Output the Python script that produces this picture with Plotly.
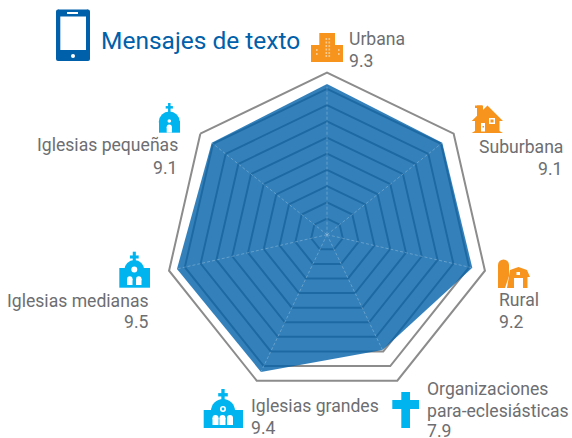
import plotly.graph_objects as go

W, H = 572, 438
categories = ["Urbana", "Suburbana", "Rural", "Organizaciones para-eclesiásticas",
              "Iglesias grandes", "Iglesias medianas", "Iglesias pequeñas"]
values = [9.3, 9.1, 9.2, 7.9, 9.4, 9.5, 9.1]
title_text = "Mensajes de texto"

BLUE = "#0060a9"
CYAN = "#00b5ef"
ORANGE = "#f7941e"
GREY = "#6d6e71"
FONT = "Roboto"

def px(x): return x / W
def py(y): return 1 - y / H

def poly(pts):
    return "M " + " L ".join(f"{px(x):.5f},{py(y):.5f}" for x, y in pts) + " Z"

def p_shape(pts, color):
    return dict(type="path", xref="paper", yref="paper", path=poly(pts),
                fillcolor=color, line=dict(width=0), layer="above")

def rect(x0, y0, x1, y1, color):
    return dict(type="rect", xref="paper", yref="paper", x0=px(x0), x1=px(x1),
                y0=py(y0), y1=py(y1), fillcolor=color, line=dict(width=0), layer="above")

def circ(cx, cy, r, color):
    return dict(type="circle", xref="paper", yref="paper", x0=px(cx - r), x1=px(cx + r),
                y0=py(cy - r), y1=py(cy + r), fillcolor=color, line=dict(width=0), layer="above")

def church_cross(cx, top, s, color=CYAN):
    return [rect(cx - s * 0.35, top, cx + s * 0.35, top + s * 2.9, color),
            rect(cx - s, top + s * 0.85, cx + s, top + s * 1.55, color)]

shapes = []
# phone
shapes += [rect(58, 9.5, 88, 61, BLUE), rect(56, 11.5, 90, 59, BLUE),
           circ(58, 11.5, 2, BLUE), circ(88, 11.5, 2, BLUE), circ(58, 59, 2, BLUE), circ(88, 59, 2, BLUE),
           rect(60.3, 16.5, 86, 50, "white"), rect(67, 12, 78, 14, "white"), circ(73, 56, 2, "white")]
# Urbana
shapes += [rect(319.3, 33, 335, 62, ORANGE), rect(311, 45, 343, 62, ORANGE)]
for wx in (325.5, 328.5):
    for wy in (38, 41.5, 45, 48.5, 52, 55):
        shapes.append(rect(wx, wy, wx + 1.6, wy + 2, "#fbc98a"))
for wx in (316, 338):
    for wy in (49, 53):
        shapes.append(rect(wx, wy, wx + 1.6, wy + 2, "#fbc98a"))
# Suburbana
shapes += [p_shape([(471.7, 121), (487.5, 105.5), (503, 121), (499.5, 121), (499.5, 131), (503, 133),
                    (471.7, 133), (475, 131), (475, 121)], ORANGE),
           rect(477, 105.5, 483, 116, ORANGE), rect(475, 105.5, 482, 108, ORANGE),
           rect(489, 118, 495, 124, "white"), rect(490.5, 119.5, 493.5, 122.5, ORANGE),
           rect(481, 123, 485, 131.5, "white"), rect(482.5, 126, 484, 127.5, ORANGE)]
# Rural
shapes += [rect(498, 265, 509, 288, ORANGE), circ(503.5, 265, 5.5, ORANGE),
           p_shape([(509, 276), (505, 288), (509, 288)], "white"),
           p_shape([(507, 288), (510, 270), (518.5, 267), (527, 270), (530, 277), (527.5, 277), (527.5, 288)], ORANGE),
           rect(514, 278, 523, 288, "white"), rect(516.5, 272, 520, 275, "white")]
# Iglesias pequeñas
shapes += church_cross(169.3, 103, 3.6)
shapes += [circ(169.3, 122, 10.5, CYAN), rect(159, 121, 180, 132.7, CYAN),
           circ(169.3, 121, 1.8, "white"), rect(166.7, 127, 171.9, 132.7, "white"), circ(169.3, 127, 2.6, "white")]
# Iglesias medianas
shapes += church_cross(134.3, 251.7, 4.4)
shapes += [circ(134.3, 270, 10, CYAN), rect(119.3, 268, 150, 287.7, CYAN), circ(134.3, 269.5, 3, "white"),
           rect(127, 279, 132.5, 285, "white"), circ(129.8, 279, 2.7, "white"),
           rect(136, 279, 141.5, 285, "white"), circ(138.8, 279, 2.7, "white")]
# Iglesias grandes
shapes += church_cross(223, 389, 4.8)
shapes += [circ(223, 411, 12, CYAN), rect(203.7, 410, 243, 428, CYAN), circ(223, 409, 3, "white"), circ(223, 409, 1.4, CYAN)]
for bx in (212.5, 219.5, 227):
    shapes += [rect(bx, 418, bx + 6, 425, "white"), circ(bx + 3, 418, 3, "white")]
# Organizaciones: cross
shapes += [rect(401.3, 392, 410, 428, CYAN), rect(392.3, 400, 419, 409, CYAN)]

def note(text, x, y, anchor="left", color=GREY, size=17.6):
    return dict(text=text, xref="paper", yref="paper", x=px(x), y=py(y), xanchor=anchor, yanchor="middle",
                showarrow=False, align=anchor, borderpad=0, font=dict(family=FONT, size=size, color=color))

val = [f"{v:.1f}" for v in values]
annotations = [
    note(title_text, 100, 41, color=BLUE, size=24.5),
    note(categories[0], 347.5, 39), note(val[0], 347.5, 61),
    note(categories[1], 564, 147, "right"), note(val[1], 563, 169, "right"),
    note(categories[2], 497.5, 300), note(val[2], 497.5, 322),
    note("Organizaciones", 426, 389), note("para-eclesiásticas", 426, 411), note(val[3], 426, 430.5),
    note(categories[4], 249.5, 406), note(val[4], 249.5, 427.5),
    note(categories[5], 150, 301, "right"), note(val[5], 150, 322, "right"),
    note(categories[6], 178.5, 145, "right"), note(val[6], 177.5, 168, "right"),
]

fig = go.Figure()
fig.add_trace(go.Scatterpolar(
    r=values + values[:1], theta=categories + categories[:1], mode="lines", fill="toself",
    fillcolor="rgba(0,96,169,0.8)", line=dict(width=0, color="rgba(0,96,169,0)"), hoverinfo="skip"))
for c, v in zip(categories, values):
    fig.add_trace(go.Scatterpolar(
        r=[0, v], theta=[c, c], mode="lines", hoverinfo="skip",
        line=dict(color="rgba(255,255,255,0.25)", width=1, dash="3px,2px")))

R_MAX = 10.1
R = 16.2 * R_MAX
fig.update_layout(
    width=W, height=H, autosize=False, showlegend=False,
    margin=dict(l=0, r=0, t=0, b=0), paper_bgcolor="white", plot_bgcolor="white",
    polar=dict(
        domain=dict(x=[px(327 - R), px(327 + R)], y=[py(234.7 + R), py(234.7 - R)]),
        gridshape="linear", bgcolor="white",
        radialaxis=dict(range=[0, R_MAX], dtick=1, showticklabels=False, ticks="", showline=False,
                        gridcolor="#8c8c8c", gridwidth=2.4),
        angularaxis=dict(type="category", categoryorder="array", categoryarray=categories,
                         rotation=90, direction="clockwise", showticklabels=False, ticks="",
                         showline=False, showgrid=False),
    ),
    shapes=shapes, annotations=annotations,
)
fig.write_html("out.html", config={"displayModeBar": False},
               post_script="document.body.style.margin='0';document.body.style.overflow='hidden';")
